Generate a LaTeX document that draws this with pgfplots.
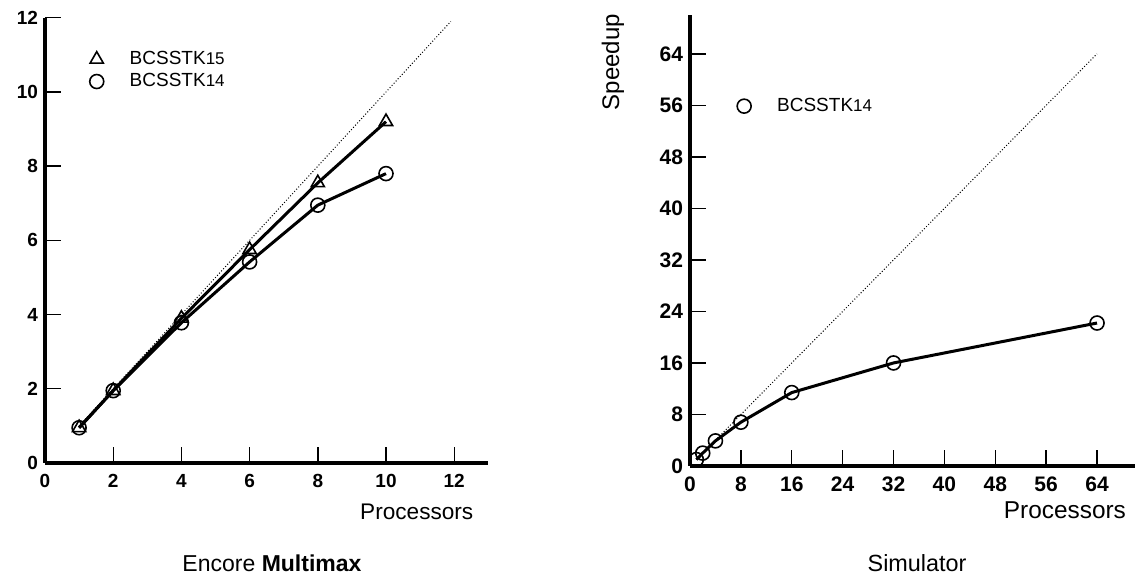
\documentclass[border=0pt]{standalone}
\usepackage{fontspec}
\setmainfont{Liberation Sans}
\usepackage{pgfplots}
\pgfplotsset{compat=1.18}

% shared look of both panels
\pgfplotsset{
  oldfig/.style={
    scale only axis, axis lines*=left, clip=false,
    axis line style={line width=2pt},
    tick align=inside, major tick length=8pt,
    tick style={line width=0.7pt, black},
    /pgf/number format/assume math mode=true,
    every axis title shift=0pt,
    legend style={draw=none, fill=none, anchor=north west, row sep=-1pt,
      font=\fontsize{9.5}{10}\selectfont, inner sep=0pt,
      /tikz/every odd column/.append style={column sep=11pt}},
    legend cell align=left,
    legend image code/.code={\draw[##1,only marks] plot coordinates {(0pt,0pt)};},
  },
  run/.style={black, line width=1.5pt, mark options={solid, line width=0.8pt}},
  ideal/.style={black, line width=0.5pt, densely dotted, forget plot},
}

\begin{document}
\begin{tikzpicture}
\path[use as bounding box] (0,0) rectangle (569pt,288pt);

% ---------------- Encore Multimax ----------------
\begin{axis}[oldfig,
  at={(22.5pt,56.5pt)}, anchor=south west,
  x=17.05pt, y=18.55pt,
  xmin=0, xmax=13, ymin=0, ymax=12,
  xtick={0,2,...,12}, ytick={0,2,...,12},
  tick label style={font=\fontsize{9.5}{10}\selectfont\bfseries},
  xticklabel style={yshift=-2pt},
  xlabel={Processors},
  xlabel style={at={(axis description cs:0.982,-0.11)}, anchor=east,
    font=\fontsize{11.3}{12}\selectfont},
  title={Encore \textbf{Multimax}},
  title style={at={(axis description cs:0.512,-0.225)}, anchor=center, yshift=0pt,
    font=\fontsize{11.5}{12}\selectfont},
  legend style={at={(axis description cs:0.10,0.935)}},
]
\addplot[ideal] coordinates {(1,1) (11.9,11.9)};
\addplot[run, mark=triangle, mark size=3.8pt] coordinates {
  (1,0.95) (2,1.95) (4,3.9) (6,5.75) (8,7.55) (10,9.2)};
\addlegendentry{BCSSTK{\fontsize{8.5}{9}\selectfont 15}}
\addplot[run, mark=o, mark size=3.5pt] coordinates {
  (1,0.95) (2,1.95) (4,3.78) (6,5.42) (8,6.95) (10,7.8)};
\addlegendentry{BCSSTK{\fontsize{8.5}{9}\selectfont 14}}
\end{axis}

% ---------------- Simulator ----------------
\begin{axis}[oldfig,
  at={(345pt,55pt)}, anchor=south west,
  x=3.18pt, y=3.22pt,
  xmin=0, xmax=70, ymin=0, ymax=70,
  xtick={0,8,...,64}, ytick={0,8,...,64},
  tick label style={font=\fontsize{10.5}{11}\selectfont\bfseries},
  xticklabel style={yshift=-2pt},
  xlabel={Processors},
  xlabel style={at={(axis description cs:0.995,-0.098)}, anchor=east,
    font=\fontsize{12.2}{13}\selectfont},
  ylabel={Speedup},
  ylabel style={at={(axis description cs:-0.173,0.896)}, anchor=center, rotate=0,
    font=\fontsize{12}{13}\selectfont},
  title={Simulator},
  title style={at={(axis description cs:0.51,-0.215)}, anchor=center, yshift=0pt,
    font=\fontsize{11.7}{12}\selectfont},
  legend style={at={(axis description cs:0.105,0.826)}},
]
\addplot[ideal] coordinates {(1,1) (64,64)};
\addplot[run, mark=o, mark size=3.5pt] coordinates {
  (1,1) (2,2) (4,3.9) (8,6.8) (16,11.4) (32,16) (64,22.2)};
\addlegendentry{BCSSTK{\fontsize{8.5}{9}\selectfont 14}}
\end{axis}
\end{tikzpicture}
\end{document}
